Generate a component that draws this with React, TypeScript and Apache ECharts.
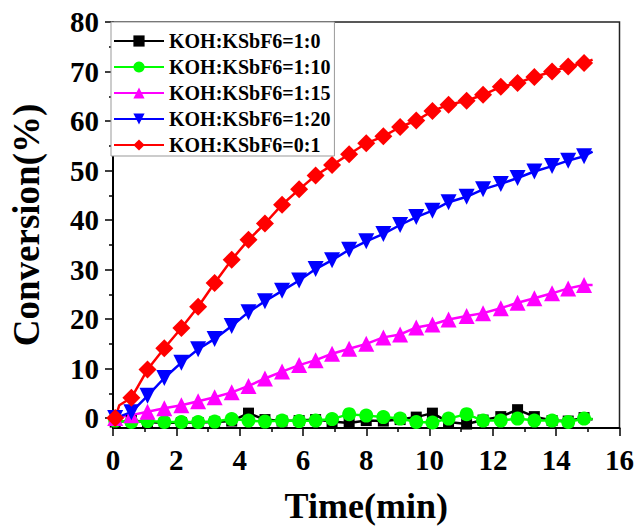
import React, { useEffect, useRef } from "react";
import * as echarts from "echarts";

// Sampling times (min) of the marked points, plus the final unmarked end of each trace
const times = [0.07, 0.58, 1.09, 1.62, 2.16, 2.69, 3.21, 3.75, 4.28, 4.8, 5.34, 5.88, 6.4, 6.92, 7.46, 8.0, 8.54, 9.07, 9.58, 10.09, 10.6, 11.17, 11.69, 12.25, 12.78, 13.31, 13.87, 14.38, 14.88];
const endTime = 15.15;

const seriesNames = ["KOH:KSbF6=1:0", "KOH:KSbF6=1:10", "KOH:KSbF6=1:15", "KOH:KSbF6=1:20", "KOH:KSbF6=0:1"];

const conv_1_0 = [-0.8, -0.5, -0.8, -1.0, -0.9, -0.9, -0.8, -0.6, 1.0, -0.3, -0.6, -0.5, -0.3, -0.7, -1.0, -0.5, -0.6, -0.3, 0.2, 1.0, -0.8, -1.2, -0.4, 0.3, 1.7, 0.3, -0.5, -0.6, 0.1];
const conv_1_10 = [-0.5, -0.8, -0.6, -0.8, -0.8, -0.8, -0.7, -0.2, -0.5, -0.7, -0.5, -0.6, -0.5, -0.2, 0.8, 0.5, 0.2, -0.1, -0.8, -0.9, -0.1, 0.8, -0.5, -0.5, -0.1, -0.5, -0.5, -0.8, -0.1];
const conv_1_15 = [0, 0.6, 1.3, 2.0, 2.6, 3.4, 4.2, 5.2, 6.5, 8.0, 9.4, 10.7, 11.7, 13.0, 14.0, 15.0, 16.3, 16.9, 18.3, 18.9, 19.9, 20.6, 21.2, 22.2, 23.3, 24.2, 25.2, 26.2, 26.9];
const conv_1_20 = [0, 1.2, 4.5, 8.1, 11.2, 13.9, 16.0, 18.6, 21.4, 23.6, 25.7, 27.8, 30.1, 31.9, 34.0, 35.7, 37.2, 39.0, 40.6, 41.9, 43.6, 44.7, 46.2, 47.3, 48.5, 49.8, 50.9, 52.0, 52.9];
const conv_0_1 = [0, 4.1, 9.8, 14.1, 18.2, 22.5, 27.3, 32.0, 36.0, 39.3, 43.1, 46.2, 49.0, 51.1, 53.3, 55.5, 56.9, 58.8, 60.1, 62.0, 63.3, 64.1, 65.3, 66.9, 67.7, 68.9, 70.0, 71.0, 71.7];
const endValues = [-0.3, -0.2, 26.9, 53.8, 72.4];
// early unmarked point on the 0:1 trace
const earlyPoint0_1 = [0.2, 2.6];

const yMajorTicks = [0, 10, 20, 30, 40, 50, 60, 70, 80];
const yMinorTicks = [5, 15, 25, 35, 45, 55, 65, 75];

const colors = ["#000000", "#00ff00", "#ff00ff", "#0000ff", "#ff0000"];
const symbols = ["rect", "circle", "triangle", "triangle", "diamond"];
const symbolSizes = [11, 14, 16, 16, 18];
const rotations = [0, 0, 0, 180, 0];

const FONT = "Liberation Serif";

export default function App() {
  const ref = useRef<HTMLDivElement>(null);
  useEffect(() => {
    if (!ref.current) return;
    const chart = echarts.init(ref.current, undefined, { renderer: "svg" });
    const allValues = [conv_1_0, conv_1_10, conv_1_15, conv_1_20, conv_0_1];
    const series = allValues.map((vals, i) => {
      const data: any[] = vals.map((v, k) => [times[k], v]);
      if (i === 4) data.splice(1, 0, { value: earlyPoint0_1, symbol: "none" });
      data.push({ value: [endTime, endValues[i]], symbol: "none" });
      return {
        name: seriesNames[i],
        type: "line",
        data,
        symbol: symbols[i],
        symbolSize: symbolSizes[i],
        symbolRotate: rotations[i],
        showAllSymbol: true,
        lineStyle: { color: colors[i], width: 2.5 },
        itemStyle: { color: colors[i] },
        xAxisIndex: 0,
        yAxisIndex: 0,
        emphasis: { disabled: true },
      };
    });
    const labelStyle = { fontFamily: FONT, fontWeight: "bold", fontSize: 29, color: "#000" };
    chart.setOption({
      animation: false,
      grid: { left: 112, right: 17, top: 22, bottom: 92, show: true, borderColor: "#222", borderWidth: 1.5, backgroundColor: "transparent" },
      legend: {
        orient: "vertical",
        left: 111,
        top: 22,
        padding: [9, 4, 1, 2],
        itemGap: 6,
        itemWidth: 50,
        itemHeight: 14,
        backgroundColor: "#fff",
        borderColor: "#999",
        borderWidth: 1,
        borderRadius: 0,
        textStyle: { fontFamily: FONT, fontWeight: "bold", fontSize: 20, color: "#000" },
        data: seriesNames,
      },
      xAxis: {
        type: "value",
        min: 0,
        max: 16,
        interval: 2,
        name: "Time(min)",
        nameLocation: "middle",
        nameGap: 60,
        nameTextStyle: { fontFamily: FONT, fontWeight: "bold", fontSize: 36, color: "#000" },
        axisLine: { onZero: false, lineStyle: { color: "#000", width: 2 } },
        axisTick: { length: 8, lineStyle: { color: "#000", width: 1.5 } },
        minorTick: { show: true, splitNumber: 2, length: 4, lineStyle: { color: "#000", width: 1.5 } },
        axisLabel: { ...labelStyle, margin: 17 },
        splitLine: { show: false },
      },
      yAxis: [
        {
          type: "value",
          min: -2,
          max: 80,
          name: "Conversion(%)",
          nameLocation: "middle",
          nameGap: 68,
          nameTextStyle: { fontFamily: FONT, fontWeight: "bold", fontSize: 37, color: "#000" },
          axisLine: { onZero: false, lineStyle: { color: "#000", width: 2 } },
          axisTick: { customValues: yMajorTicks, length: 8, lineStyle: { color: "#000", width: 1.5 } },
          axisLabel: { ...labelStyle, margin: 14, customValues: yMajorTicks },
          splitLine: { show: false },
        },
        {
          type: "value",
          min: -2,
          max: 80,
          position: "left",
          axisLine: { show: false, onZero: false },
          axisTick: { customValues: yMinorTicks, length: 4, lineStyle: { color: "#000", width: 1.5 } },
          axisLabel: { show: false },
          splitLine: { show: false },
        },
      ],
      series,
    });
    return () => chart.dispose();
  }, []);
  return <div ref={ref} style={{ position: "fixed", left: 0, top: 0, width: 637, height: 529, background: "#fff" }} />;
}
